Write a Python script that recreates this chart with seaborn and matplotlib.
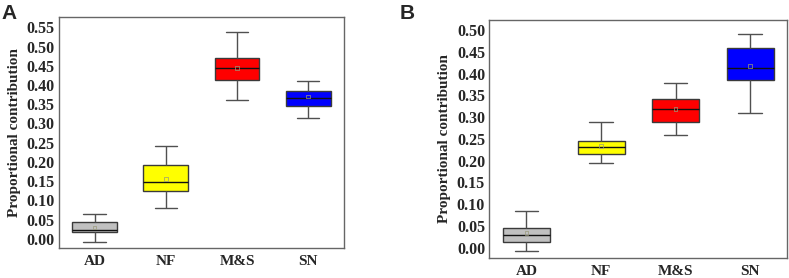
import numpy as np
import pandas as pd
import matplotlib
matplotlib.use("Agg")
import matplotlib.pyplot as plt
import seaborn as sns

categories = ["AD", "NF", "M&S", "SN"]
colors = ["#c0c0c0", "#ffff00", "#ff0000", "#0000ff"]

# Panel A: five-number summaries (whisker low, Q1, median, Q3, whisker high)
a_wlo = [-0.009, 0.081, 0.360, 0.314]
a_q1 = [0.017, 0.124, 0.412, 0.346]
a_med = [0.024, 0.147, 0.444, 0.366]
a_q3 = [0.043, 0.193, 0.470, 0.385]
a_whi = [0.064, 0.242, 0.538, 0.410]
a_mean = [0.029, 0.155, 0.445, 0.370]

# Panel B
b_wlo = [-0.009, 0.195, 0.258, 0.309]
b_q1 = [0.012, 0.214, 0.289, 0.384]
b_med = [0.029, 0.231, 0.318, 0.413]
b_q3 = [0.045, 0.246, 0.342, 0.459]
b_whi = [0.084, 0.289, 0.379, 0.491]
b_mean = [0.033, 0.234, 0.318, 0.418]

a_yticks = [0.00, 0.05, 0.10, 0.15, 0.20, 0.25, 0.30, 0.35, 0.40, 0.45, 0.50, 0.55]
b_yticks = [0.00, 0.05, 0.10, 0.15, 0.20, 0.25, 0.30, 0.35, 0.40, 0.45, 0.50]

sns.set_style("white")
plt.rcParams["font.family"] = ["Liberation Serif", "DejaVu Serif"]


def make_df(wlo, q1, med, q3, whi):
    rows = []
    for c, a, b, m, d, e in zip(categories, wlo, q1, med, q3, whi):
        for v in (a, b, m, d, e):
            rows.append({"cat": c, "val": v})
    return pd.DataFrame(rows)


fig = plt.figure(figsize=(7.89, 2.78), dpi=100)
axA = fig.add_axes([0.0748, 0.108, 0.361, 0.831])
axB = fig.add_axes([0.620, 0.072, 0.378, 0.856])

edge = "#3a3a3a"
wcol = "#505050"


def draw(ax, df, means, yticks, ylim):
    sns.boxplot(data=df, x="cat", y="val", hue="cat", order=categories,
                hue_order=categories, palette=colors, legend=False,
                saturation=1, whis=(0, 100), width=0.63, ax=ax, linewidth=1.0,
                showfliers=False,
                boxprops=dict(edgecolor=edge),
                whiskerprops=dict(color=wcol),
                capprops=dict(color=wcol),
                medianprops=dict(color="#111111", linewidth=1.0))
    mdf = pd.DataFrame({"cat": categories, "val": means})
    sns.scatterplot(data=mdf, x="cat", y="val", marker="s", s=7,
                    facecolor="none", edgecolor="#9a9a7a", linewidth=0.5,
                    ax=ax, zorder=5)
    ax.set_xlim(-0.5, 3.5)
    ax.set_ylim(*ylim)
    ax.set_yticks(yticks)
    ax.set_yticklabels([f"{t:.2f}" for t in yticks])
    ax.set_xlabel("")
    ax.set_ylabel("Proportional contribution", fontsize=11, fontweight="bold",
                  labelpad=4)
    ax.tick_params(axis="y", direction="in", length=3, width=0.8,
                   color="#555555", labelsize=11.5, pad=3)
    ax.tick_params(axis="x", direction="in", length=3, width=0.8,
                   color="#555555", labelsize=11, pad=5)
    for lab in ax.get_xticklabels() + ax.get_yticklabels():
        lab.set_fontweight("bold")
    for s in ax.spines.values():
        s.set_visible(True)
        s.set_color("#666666")
        s.set_linewidth(1.0)


draw(axA, make_df(a_wlo, a_q1, a_med, a_q3, a_whi), a_mean, a_yticks, (-0.024, 0.577))
draw(axB, make_df(b_wlo, b_q1, b_med, b_q3, b_whi), b_mean, b_yticks, (-0.024, 0.523))

fig.text(0.002, 0.985, "A", fontsize=15, fontweight="bold",
         family=["Liberation Sans", "DejaVu Sans"], va="top", ha="left")
fig.text(0.506, 0.985, "B", fontsize=15, fontweight="bold",
         family=["Liberation Sans", "DejaVu Sans"], va="top", ha="left")

fig.savefig("out.png", dpi=100)
